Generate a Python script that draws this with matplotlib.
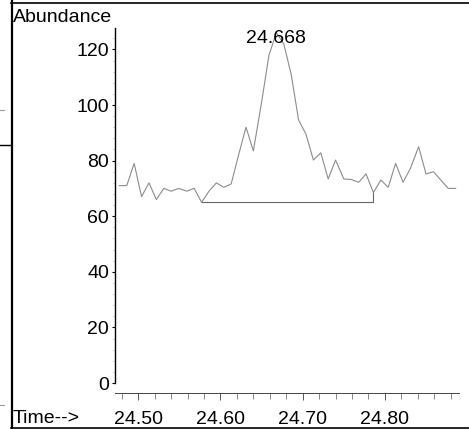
import matplotlib
matplotlib.use("Agg")
import matplotlib.pyplot as plt
from matplotlib.lines import Line2D
from matplotlib.ticker import MultipleLocator

plt.rcParams["font.family"] = ["Liberation Sans", "DejaVu Sans"]

# scan times (min) and abundance
times = [24.477, 24.486, 24.495, 24.504, 24.513, 24.522, 24.531, 24.540,
         24.549, 24.559, 24.568, 24.577, 24.586, 24.595, 24.604, 24.613,
         24.622, 24.631, 24.640, 24.650, 24.659, 24.668, 24.677, 24.686,
         24.695, 24.704, 24.713, 24.722, 24.731, 24.740, 24.750, 24.759,
         24.768, 24.777, 24.786, 24.795, 24.804, 24.813, 24.822, 24.831,
         24.841, 24.850, 24.859, 24.868, 24.877, 24.886]
abundance = [71, 71, 79, 67, 72, 66, 70, 69,
             70, 69, 70, 65, 69, 72, 70.4, 71.6,
             82, 92, 83.5, 101, 118, 126, 122, 111,
             94.6, 89.5, 80.2, 82.8, 73.4, 80.2, 73.4, 73.2,
             72.2, 75.2, 68.5, 73, 70.4, 79, 72.2, 77.2,
             85, 75.2, 76, 73, 70, 70]

# integration baseline (start, end) and peak label
base_t = [24.577, 24.786, 24.786]
base_y = [65.2, 65.2, 68.5]
peak_rt = "24.668"
xticks = [24.50, 24.60, 24.70, 24.80]
yticks = [0, 20, 40, 60, 80, 100, 120]

W, H = 469, 429
fig = plt.figure(figsize=(W / 100, H / 100), dpi=100)
ax = fig.add_axes([115 / W, (H - 383) / H, (459 - 115) / W, (383 - 28) / H])

ax.plot(times, abundance, color="#8c8c8c", lw=0.8)
ax.plot(base_t, base_y, color="#666666", lw=0.8)
ax.text(float(peak_rt), 123.8, peak_rt, ha="center", va="center", fontsize=14)

ax.set_xlim(24.4717, 24.8901)
ax.set_ylim(0, 127.7)
ax.set_xticks(xticks)
ax.set_xticklabels([f"{t:.2f}" for t in xticks])
ax.set_yticks(yticks)
ax.xaxis.set_minor_locator(MultipleLocator(0.02))
ax.yaxis.set_minor_locator(MultipleLocator(4))

for s in ("top", "right"):
    ax.spines[s].set_visible(False)
ax.spines["left"].set_linewidth(1.0)
ax.spines["bottom"].set_linewidth(0.7)
ax.spines["bottom"].set_color("#444444")
ax.spines["bottom"].set_position(("outward", 7.2))

ax.tick_params(axis="x", which="major", direction="out", length=5, width=0.7,
               color="#555555", pad=7.6, labelsize=14)
ax.tick_params(axis="x", which="minor", direction="out", length=4, width=0.7,
               color="#888888")
ax.tick_params(axis="y", which="major", direction="out", length=2.2, width=0.8,
               pad=2.2, labelsize=14)
ax.tick_params(axis="y", which="minor", direction="out", length=1.4, width=0.5,
               color="#aaaaaa")

fig.text(13 / W, (H - 22) / H, "Abundance", ha="left", va="baseline", fontsize=14)
fig.text(13 / W, (H - 423) / H, "Time-->", ha="left", va="baseline", fontsize=14)

# window frame around the report
def fline(xs, ys, **kw):
    fig.add_artist(Line2D([x / W for x in xs], [1 - y / H for y in ys],
                          transform=fig.transFigure, **kw))

fline([11.5, 11.5], [0, H], color="black", lw=1.6)
fline([11, W], [3, 3], color="black", lw=1.2)
fline([11, W], [427.5, 427.5], color="black", lw=1.2)
fline([0, 11], [145, 145], color="black", lw=1.0)
fline([0, 4], [110, 110], color="#999999", lw=0.8)
fline([0, 4], [405, 405], color="#999999", lw=0.8)

fig.savefig("out.png", dpi=100)
